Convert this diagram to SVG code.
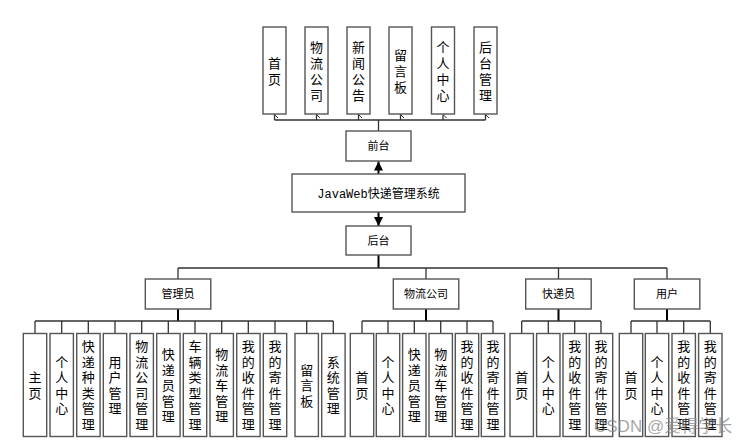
<svg xmlns="http://www.w3.org/2000/svg" width="747" height="446" viewBox="0 0 747 446">
<style>
.b{fill:#fff;stroke:#555;stroke-width:1.4}
.c{fill:none;stroke:#333;stroke-width:1.3}
.p{fill:none;stroke:#000;stroke-width:2}
.t{font-family:"Noto Sans CJK SC","Liberation Sans",sans-serif;font-size:13px;fill:#000;text-anchor:middle}
.s{font-family:"Noto Sans CJK SC","Liberation Sans",sans-serif;font-size:11px;fill:#000;text-anchor:middle}
.m{font-family:"Liberation Mono","Noto Sans CJK SC",monospace;font-size:12px;fill:#000;text-anchor:middle}
.w{font-family:"Liberation Sans","Noto Sans CJK SC",sans-serif;font-size:17px;fill:#888;fill-opacity:0.75}
</style>
<defs>
<marker id="ao" viewBox="0 0 8 8" refX="4" refY="0.5" markerWidth="8" markerHeight="8" markerUnits="userSpaceOnUse" orient="auto-start-reverse">
<path d="M0.5,4 L4,0.5 L7.5,4" fill="none" stroke="#333" stroke-width="1"/>
</marker>
<marker id="af" viewBox="0 0 10 10" refX="10" refY="5" markerWidth="9" markerHeight="9" markerUnits="userSpaceOnUse" orient="auto">
<path d="M0,0 L10,5 L0,10 Z" fill="#000"/>
</marker>
</defs>
<g id="connectors">
<path class="c" d="M378.5,131 V120 M274.5,120 H485.5"/>
<path class="c" marker-end="url(#ao)" d="M274.5,120 V114.5"/>
<path class="c" marker-end="url(#ao)" d="M316.5,120 V114.5"/>
<path class="c" marker-end="url(#ao)" d="M358.5,120 V114.5"/>
<path class="c" marker-end="url(#ao)" d="M400.5,120 V114.5"/>
<path class="c" marker-end="url(#ao)" d="M443,120 V114.5"/>
<path class="c" marker-end="url(#ao)" d="M485.5,120 V114.5"/>
<path class="p" stroke-width="1.5" marker-end="url(#af)" d="M378.5,174 V161.5"/>
<path class="p" stroke-width="1.5" marker-end="url(#af)" d="M378.5,212 V226"/>
<path class="p" stroke-width="1.5" d="M378.5,255 V268"/>
<path class="c" d="M178,268 H667 M178,268 V279 M426,268 V279 M558.5,268 V279 M667,268 V279"/>
<path class="p" d="M178,309 V321"/>
<path class="c" d="M35,321 H333.3 M35,321 V333.5 M61.7,321 V333.5 M88.3,321 V333.5 M115,321 V333.5 M141.7,321 V333.5 M168.3,321 V333.5 M195,321 V333.5 M221.7,321 V333.5 M248.3,321 V333.5 M275,321 V333.5 M306.7,321 V333.5 M333.3,321 V333.5"/>
<path class="p" d="M426,309 V321"/>
<path class="c" d="M362,321 H493 M362,321 V333.5 M388,321 V333.5 M414.3,321 V333.5 M440.7,321 V333.5 M467,321 V333.5 M493,321 V333.5"/>
<path class="p" d="M558.5,309 V321"/>
<path class="c" d="M521.7,321 H601 M521.7,321 V333.5 M548.3,321 V333.5 M574.7,321 V333.5 M601,321 V333.5"/>
<path class="p" d="M667,309 V321"/>
<path class="c" d="M631,321 H710.3 M631,321 V333.5 M657,321 V333.5 M683.7,321 V333.5 M710.3,321 V333.5"/>
</g>
<g id="root"><rect class="b" x="292" y="174" width="173" height="38"/><text class="m" x="378.5" y="197.5">JavaWeb快递管理系统</text></g>
<g id="qiantai"><rect class="b" x="346" y="131" width="65" height="30"/><text class="s" x="378.5" y="150">前台</text></g>
<g id="houtai"><rect class="b" x="346" y="226" width="65" height="29"/><text class="s" x="378.5" y="244.5">后台</text></g>
<g id="f1"><rect class="b" x="263" y="27" width="23" height="87"/><text class="t" x="274.5" y="67.5">首<tspan x="274.5" dy="16">页</tspan></text></g>
<g id="f2"><rect class="b" x="305" y="27" width="23" height="87"/><text class="t" x="316.5" y="51.5">物<tspan x="316.5" dy="16">流</tspan><tspan x="316.5" dy="16">公</tspan><tspan x="316.5" dy="16">司</tspan></text></g>
<g id="f3"><rect class="b" x="347" y="27" width="23" height="87"/><text class="t" x="358.5" y="51.5">新<tspan x="358.5" dy="16">闻</tspan><tspan x="358.5" dy="16">公</tspan><tspan x="358.5" dy="16">告</tspan></text></g>
<g id="f4"><rect class="b" x="389" y="27" width="23" height="87"/><text class="t" x="400.5" y="59.5">留<tspan x="400.5" dy="16">言</tspan><tspan x="400.5" dy="16">板</tspan></text></g>
<g id="f5"><rect class="b" x="431.5" y="27" width="23" height="87"/><text class="t" x="443" y="51.5">个<tspan x="443" dy="16">人</tspan><tspan x="443" dy="16">中</tspan><tspan x="443" dy="16">心</tspan></text></g>
<g id="f6"><rect class="b" x="474" y="27" width="23" height="87"/><text class="t" x="485.5" y="51.5">后<tspan x="485.5" dy="16">台</tspan><tspan x="485.5" dy="16">管</tspan><tspan x="485.5" dy="16">理</tspan></text></g>
<g id="admin"><rect class="b" x="145.3" y="279" width="65.5" height="30"/><text class="s" x="178" y="298">管理员</text></g>
<g id="company"><rect class="b" x="393.3" y="279" width="65.5" height="30"/><text class="s" x="426" y="298">物流公司</text></g>
<g id="courier"><rect class="b" x="525.7" y="279" width="65.5" height="30"/><text class="s" x="558.5" y="298">快递员</text></g>
<g id="user"><rect class="b" x="634.3" y="279" width="65.5" height="30"/><text class="s" x="667" y="298">用户</text></g>
<g id="a1"><rect class="b" x="23.3" y="333.5" width="23.4" height="103"/><text class="t" x="35" y="382.25">主<tspan x="35" dy="15.5">页</tspan></text></g>
<g id="a2"><rect class="b" x="50" y="333.5" width="23.4" height="103"/><text class="t" x="61.7" y="366.75">个<tspan x="61.7" dy="15.5">人</tspan><tspan x="61.7" dy="15.5">中</tspan><tspan x="61.7" dy="15.5">心</tspan></text></g>
<g id="a3"><rect class="b" x="76.7" y="333.5" width="23.4" height="103"/><text class="t" x="88.3" y="351.25">快<tspan x="88.3" dy="15.5">递</tspan><tspan x="88.3" dy="15.5">种</tspan><tspan x="88.3" dy="15.5">类</tspan><tspan x="88.3" dy="15.5">管</tspan><tspan x="88.3" dy="15.5">理</tspan></text></g>
<g id="a4"><rect class="b" x="103.3" y="333.5" width="23.4" height="103"/><text class="t" x="115" y="366.75">用<tspan x="115" dy="15.5">户</tspan><tspan x="115" dy="15.5">管</tspan><tspan x="115" dy="15.5">理</tspan></text></g>
<g id="a5"><rect class="b" x="130" y="333.5" width="23.4" height="103"/><text class="t" x="141.7" y="351.25">物<tspan x="141.7" dy="15.5">流</tspan><tspan x="141.7" dy="15.5">公</tspan><tspan x="141.7" dy="15.5">司</tspan><tspan x="141.7" dy="15.5">管</tspan><tspan x="141.7" dy="15.5">理</tspan></text></g>
<g id="a6"><rect class="b" x="156.7" y="333.5" width="23.4" height="103"/><text class="t" x="168.3" y="359">快<tspan x="168.3" dy="15.5">递</tspan><tspan x="168.3" dy="15.5">员</tspan><tspan x="168.3" dy="15.5">管</tspan><tspan x="168.3" dy="15.5">理</tspan></text></g>
<g id="a7"><rect class="b" x="183.3" y="333.5" width="23.4" height="103"/><text class="t" x="195" y="351.25">车<tspan x="195" dy="15.5">辆</tspan><tspan x="195" dy="15.5">类</tspan><tspan x="195" dy="15.5">型</tspan><tspan x="195" dy="15.5">管</tspan><tspan x="195" dy="15.5">理</tspan></text></g>
<g id="a8"><rect class="b" x="210" y="333.5" width="23.4" height="103"/><text class="t" x="221.7" y="359">物<tspan x="221.7" dy="15.5">流</tspan><tspan x="221.7" dy="15.5">车</tspan><tspan x="221.7" dy="15.5">管</tspan><tspan x="221.7" dy="15.5">理</tspan></text></g>
<g id="a9"><rect class="b" x="236.7" y="333.5" width="23.4" height="103"/><text class="t" x="248.3" y="351.25">我<tspan x="248.3" dy="15.5">的</tspan><tspan x="248.3" dy="15.5">收</tspan><tspan x="248.3" dy="15.5">件</tspan><tspan x="248.3" dy="15.5">管</tspan><tspan x="248.3" dy="15.5">理</tspan></text></g>
<g id="a10"><rect class="b" x="263.3" y="333.5" width="23.4" height="103"/><text class="t" x="275" y="351.25">我<tspan x="275" dy="15.5">的</tspan><tspan x="275" dy="15.5">寄</tspan><tspan x="275" dy="15.5">件</tspan><tspan x="275" dy="15.5">管</tspan><tspan x="275" dy="15.5">理</tspan></text></g>
<g id="a11"><rect class="b" x="295" y="333.5" width="23.4" height="103"/><text class="t" x="306.7" y="374.5">留<tspan x="306.7" dy="15.5">言</tspan><tspan x="306.7" dy="15.5">板</tspan></text></g>
<g id="a12"><rect class="b" x="321.7" y="333.5" width="23.4" height="103"/><text class="t" x="333.3" y="366.75">系<tspan x="333.3" dy="15.5">统</tspan><tspan x="333.3" dy="15.5">管</tspan><tspan x="333.3" dy="15.5">理</tspan></text></g>
<g id="c1"><rect class="b" x="350.3" y="333.5" width="23.4" height="103"/><text class="t" x="362" y="382.25">首<tspan x="362" dy="15.5">页</tspan></text></g>
<g id="c2"><rect class="b" x="376.3" y="333.5" width="23.4" height="103"/><text class="t" x="388" y="366.75">个<tspan x="388" dy="15.5">人</tspan><tspan x="388" dy="15.5">中</tspan><tspan x="388" dy="15.5">心</tspan></text></g>
<g id="c3"><rect class="b" x="402.6" y="333.5" width="23.4" height="103"/><text class="t" x="414.3" y="359">快<tspan x="414.3" dy="15.5">递</tspan><tspan x="414.3" dy="15.5">员</tspan><tspan x="414.3" dy="15.5">管</tspan><tspan x="414.3" dy="15.5">理</tspan></text></g>
<g id="c4"><rect class="b" x="429" y="333.5" width="23.4" height="103"/><text class="t" x="440.7" y="359">物<tspan x="440.7" dy="15.5">流</tspan><tspan x="440.7" dy="15.5">车</tspan><tspan x="440.7" dy="15.5">管</tspan><tspan x="440.7" dy="15.5">理</tspan></text></g>
<g id="c5"><rect class="b" x="455.3" y="333.5" width="23.4" height="103"/><text class="t" x="467" y="351.25">我<tspan x="467" dy="15.5">的</tspan><tspan x="467" dy="15.5">收</tspan><tspan x="467" dy="15.5">件</tspan><tspan x="467" dy="15.5">管</tspan><tspan x="467" dy="15.5">理</tspan></text></g>
<g id="c6"><rect class="b" x="481.3" y="333.5" width="23.4" height="103"/><text class="t" x="493" y="351.25">我<tspan x="493" dy="15.5">的</tspan><tspan x="493" dy="15.5">寄</tspan><tspan x="493" dy="15.5">件</tspan><tspan x="493" dy="15.5">管</tspan><tspan x="493" dy="15.5">理</tspan></text></g>
<g id="k1"><rect class="b" x="510" y="333.5" width="23.4" height="103"/><text class="t" x="521.7" y="382.25">首<tspan x="521.7" dy="15.5">页</tspan></text></g>
<g id="k2"><rect class="b" x="536.6" y="333.5" width="23.4" height="103"/><text class="t" x="548.3" y="366.75">个<tspan x="548.3" dy="15.5">人</tspan><tspan x="548.3" dy="15.5">中</tspan><tspan x="548.3" dy="15.5">心</tspan></text></g>
<g id="k3"><rect class="b" x="563" y="333.5" width="23.4" height="103"/><text class="t" x="574.7" y="351.25">我<tspan x="574.7" dy="15.5">的</tspan><tspan x="574.7" dy="15.5">收</tspan><tspan x="574.7" dy="15.5">件</tspan><tspan x="574.7" dy="15.5">管</tspan><tspan x="574.7" dy="15.5">理</tspan></text></g>
<g id="k4"><rect class="b" x="589.3" y="333.5" width="23.4" height="103"/><text class="t" x="601" y="351.25">我<tspan x="601" dy="15.5">的</tspan><tspan x="601" dy="15.5">寄</tspan><tspan x="601" dy="15.5">件</tspan><tspan x="601" dy="15.5">管</tspan><tspan x="601" dy="15.5">理</tspan></text></g>
<g id="u1"><rect class="b" x="619.3" y="333.5" width="23.4" height="103"/><text class="t" x="631" y="382.25">首<tspan x="631" dy="15.5">页</tspan></text></g>
<g id="u2"><rect class="b" x="645.3" y="333.5" width="23.4" height="103"/><text class="t" x="657" y="366.75">个<tspan x="657" dy="15.5">人</tspan><tspan x="657" dy="15.5">中</tspan><tspan x="657" dy="15.5">心</tspan></text></g>
<g id="u3"><rect class="b" x="672" y="333.5" width="23.4" height="103"/><text class="t" x="683.7" y="351.25">我<tspan x="683.7" dy="15.5">的</tspan><tspan x="683.7" dy="15.5">收</tspan><tspan x="683.7" dy="15.5">件</tspan><tspan x="683.7" dy="15.5">管</tspan><tspan x="683.7" dy="15.5">理</tspan></text></g>
<g id="u4"><rect class="b" x="698.6" y="333.5" width="23.4" height="103"/><text class="t" x="710.3" y="351.25">我<tspan x="710.3" dy="15.5">的</tspan><tspan x="710.3" dy="15.5">寄</tspan><tspan x="710.3" dy="15.5">件</tspan><tspan x="710.3" dy="15.5">管</tspan><tspan x="710.3" dy="15.5">理</tspan></text></g>
<text class="w" x="594" y="432">CSDN @爱得学长</text>
</svg>
